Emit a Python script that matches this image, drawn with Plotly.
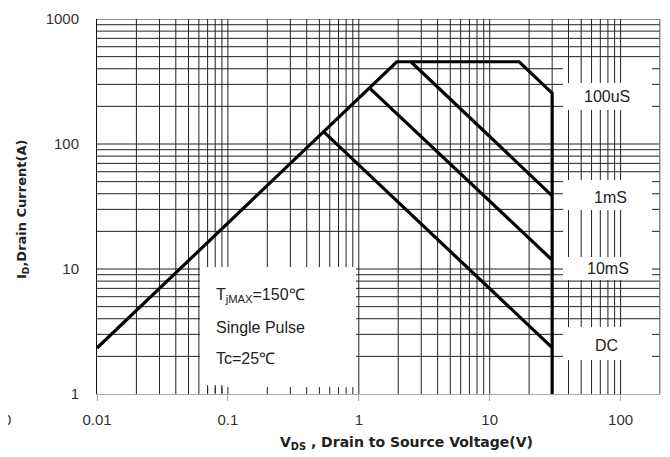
import plotly.graph_objects as go

# ---- data ----
env_v = [0.01, 1.95, 16.8, 30, 30]
env_i = [2.33, 455, 455, 255, 1]
us100_v = [2.5, 30]
us100_i = [455, 38.5]
ms1_v = [1.21, 30]
ms1_i = [280, 11.8]
dc_v = [0.54, 30]
dc_i = [125, 2.35]

x_tickvals = [0.01, 0.1, 1, 10, 100]
x_ticktext = ["0.01", "0.1", "1", "10", "100"]
y_tickvals = [1, 10, 100, 1000]
y_ticktext = ["1", "10", "100", "1000"]

curve_labels = ["100uS", "1mS", "10mS", "DC"]
note_lines = ["T<sub>jMAX</sub>=150\u2103", "Single Pulse", "Tc=25\u2103"]

x_grid = [m * 10 ** e for e in range(-2, 3) for m in range(1, 10) if 0.01 < m * 10 ** e <= 200]
y_grid = [m * 10 ** e for e in range(0, 3) for m in range(1, 10) if m * 10 ** e > 1] + [1000]

# ---- layout geometry (screen pixels; page body adds an 8px offset) ----
OFF = 8
W, H = 670 - OFF, 457 - OFF
L, R, T, B = 97, 660, 19, 394   # plot area in screen pixels


def px(xp):
    return (xp - L) / (R - L)


def py(yp):
    return (B - yp) / (B - T)


fig = go.Figure()
for xs, ys in [(env_v, env_i), (us100_v, us100_i), (ms1_v, ms1_i), (dc_v, dc_i)]:
    fig.add_trace(go.Scatter(x=xs, y=ys, mode="lines",
                             line=dict(color="black", width=3.2),
                             showlegend=False, hoverinfo="skip"))

shapes = []
# grid lines
for gx in x_grid:
    shapes.append(dict(type="line", xref="x", yref="paper", x0=gx, x1=gx, y0=0, y1=1,
                       line=dict(color="#222", width=1), layer="below"))
for gy in y_grid:
    shapes.append(dict(type="line", xref="paper", yref="y", x0=0, x1=1, y0=gy, y1=gy,
                       line=dict(color="#222", width=1), layer="below"))
# white boxes covering the grid
white_boxes = [
    (200, 356, 267, 387),   # note box
    (563, 652, 67, 143),
    (563, 652, 180, 280),
    (563, 652, 327, 393),
]
for x0, x1, y0, y1 in white_boxes:
    shapes.append(dict(type="rect", xref="paper", yref="paper",
                       x0=px(x0), x1=px(x1), y0=py(y1), y1=py(y0),
                       fillcolor="white", line=dict(width=0), layer="below"))
# vertical grid segments visible between the label boxes
seg_ranges = [(67, 83), (110, 143), (210, 257), (360, 393)]
for gx in [40, 50, 60, 70, 80, 90, 100]:
    for y0, y1 in seg_ranges:
        shapes.append(dict(type="line", xref="x", yref="paper",
                           x0=gx, x1=gx, y0=py(y1), y1=py(y0),
                           line=dict(color="#222", width=1), layer="below"))
# short vertical stubs at the bottom of the note box
for gx in [0.07, 0.08, 0.09]:
    shapes.append(dict(type="line", xref="x", yref="paper",
                       x0=gx, x1=gx, y0=py(393), y1=py(385),
                       line=dict(color="#222", width=1), layer="below"))
# right border line
shapes.append(dict(type="line", xref="paper", yref="paper", x0=1, x1=1, y0=0, y1=1,
                   line=dict(color="#888", width=1), layer="below"))
fig.update_layout(shapes=shapes)

ann = []
lab_pos = [(607, 97), (610, 197), (608, 268), (606, 345)]
for txt, (xp, yp) in zip(curve_labels, lab_pos):
    ann.append(dict(text=txt, x=px(xp), y=py(yp), xref="paper", yref="paper",
                    showarrow=False, xanchor="center", yanchor="middle",
                    font=dict(family="Liberation Sans, Arial", size=16, color="#222")))
for txt, yp in zip(note_lines, [295, 327, 358]):
    ann.append(dict(text=txt, x=px(214), y=py(yp), xref="paper", yref="paper",
                    showarrow=False, xanchor="left", yanchor="middle",
                    font=dict(family="Liberation Sans, Arial", size=16, color="#222")))
ann.append(dict(text="<b>I<sub>D</sub>,Drain Current(A)</b>", x=px(22), y=py(210),
                xref="paper", yref="paper", showarrow=False, textangle=-90,
                xanchor="center", yanchor="middle",
                font=dict(family="DejaVu Sans", size=13, color="#222")))
ann.append(dict(text="<b>V<sub>DS</sub> , Drain to Source Voltage(V)</b>", x=px(406), y=py(443),
                xref="paper", yref="paper", showarrow=False,
                xanchor="center", yanchor="middle",
                font=dict(family="DejaVu Sans", size=14, color="#222")))
ann.append(dict(text="0", x=px(OFF + 5), y=py(420), xref="paper", yref="paper",
                showarrow=False, xanchor="right", yanchor="middle",
                font=dict(family="Liberation Sans, Arial", size=15, color="#333")))
fig.update_layout(annotations=ann)

fig.update_xaxes(type="log", range=[-2, 2.301], tickvals=x_tickvals, ticktext=x_ticktext,
                 showgrid=False, automargin=False,
                 ticks="outside", ticklen=6, tickcolor="#aaa",
                 showline=True, linecolor="#aaa", linewidth=1, mirror=False,
                 zeroline=False, ticklabelstandoff=6,
                 tickfont=dict(family="Liberation Sans, Arial", size=15, color="#333"))
fig.update_yaxes(type="log", range=[0, 3], tickvals=y_tickvals, ticktext=y_ticktext,
                 showgrid=False, automargin=False,
                 ticks="", showline=True, linecolor="#111", linewidth=1,
                 zeroline=False, ticklabelstandoff=14,
                 tickfont=dict(family="Liberation Sans, Arial", size=15, color="#333"))

fig.update_layout(width=W, height=H,
                  margin=dict(l=L - OFF, r=W - (R - OFF), t=T - OFF, b=H - (B - OFF)),
                  paper_bgcolor="white", plot_bgcolor="white")

fig.write_html("out.html")
